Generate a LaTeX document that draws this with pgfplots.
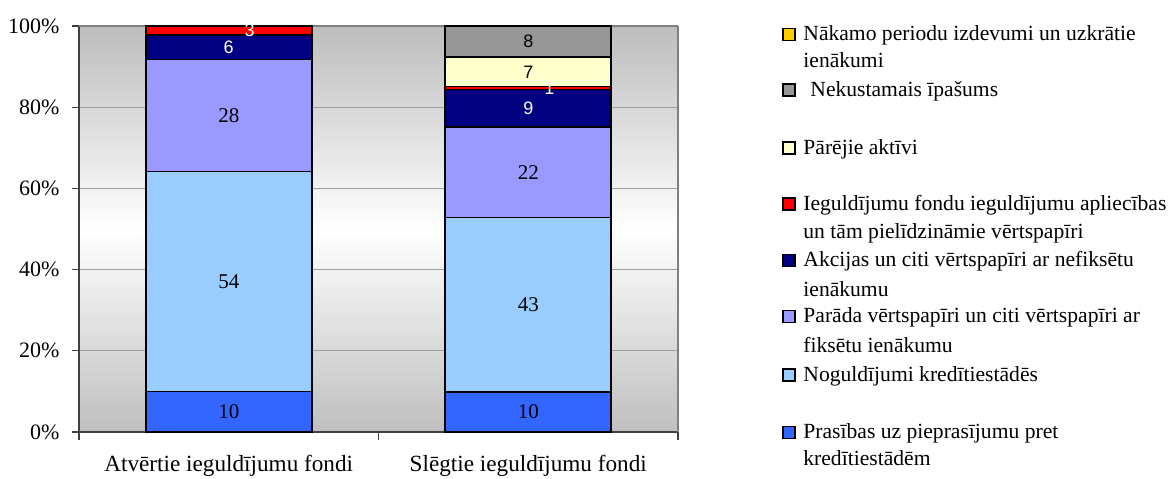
\documentclass[border=0pt]{standalone}
\usepackage{fontspec}
\setmainfont{Liberation Serif}
\newfontfamily\sansf{Liberation Sans}
\usepackage{pgfplots}
\pgfplotsset{compat=1.18}
\definecolor{cPras}{HTML}{3366FF}
\definecolor{cNog}{HTML}{99CCFF}
\definecolor{cPar}{HTML}{9999FF}
\definecolor{cAkc}{HTML}{000080}
\definecolor{cIeg}{HTML}{FF0000}
\definecolor{cPare}{HTML}{FFFFCC}
\definecolor{cNek}{HTML}{969696}
\definecolor{cNak}{HTML}{FFCC00}
\begin{document}
\begin{tikzpicture}
\useasboundingbox (0,0) rectangle (585.5pt,-239pt);
\begin{axis}[
  at={(39.5pt,-216pt)}, anchor=south west,
  scale only axis, width=299.5pt, height=203pt,
  ybar stacked, bar width=83pt,
  xmin=-0.5, xmax=1.5, ymin=0, ymax=100,
  axis lines=left, axis line style={-, draw=black!75, line width=0.6pt},
  axis background/.style={top color=black!26, bottom color=black!25, middle color=white},
  tick align=outside, major tick length=3.5pt,
  xtick={0,1},
  xticklabels={Atvērtie ieguldījumu fondi, Slēgtie ieguldījumu fondi},
  major x tick style={draw=none},
  extra x ticks={-0.5,0.5,1.5}, extra x tick labels={},
  extra x tick style={major x tick style={draw=black!75, line width=0.6pt}, major tick length=4pt, grid=none},
  ytick={0,20,40,60,80,100},
  yticklabels={0\%,20\%,40\%,60\%,80\%,100\%},
  ytick style={draw=black!75, line width=0.6pt},
  ymajorgrids, major grid style={draw=black!38, line width=0.5pt},
  yticklabel style={font=\fontsize{11}{13}\selectfont, xshift=-2.8pt},
  xticklabel style={font=\fontsize{11.6}{13}\selectfont, anchor=base, yshift=-16pt},
  point meta=explicit symbolic,
  nodes near coords,
  every node near coord/.append style={anchor=center, inner sep=0pt,
     font=\fontsize{10.5}{12}\selectfont},
  every axis plot/.append style={draw=black, line width=0.8pt},
  clip=false,
]
% Prasības uz pieprasījumu pret kredītiestādēm
\addplot[fill=cPras] table[x=x,y=y,meta=l] {
x y l
0 10.0 10
1 9.9 10
};
% Noguldījumi kredītiestādēs
\addplot[fill=cNog] table[x=x,y=y,meta=l] {
x y l
0 54.2 54
1 42.9 43
};
% Parāda vērtspapīri
\addplot[fill=cPar] table[x=x,y=y,meta=l] {
x y l
0 27.6 28
1 22.3 22
};
% Akcijas
\addplot[fill=cAkc, every node near coord/.append style={font=\sansf\fontsize{9}{11}\selectfont, text=white}] table[x=x,y=y,meta=l] {
x y l
0 6.0 6
1 9.3 9
};
% Ieguldījumu fondu apliecības
\addplot[fill=cIeg, every node near coord/.append style={font=\sansf\fontsize{9}{11}\selectfont, text=white, xshift=10.5pt}] table[x=x,y=y,meta=l] {
x y l
0 2.2 3
1 0.7 1
};
% Pārējie aktīvi
\addplot[fill=cPare, every node near coord/.append style={font=\sansf\fontsize{9}{11}\selectfont}] table[x=x,y=y,meta=l] {
x y l
0 0 {}
1 7.2 7
};
% Nekustamais īpašums
\addplot[fill=cNek, every node near coord/.append style={font=\sansf\fontsize{9}{11}\selectfont}] table[x=x,y=y,meta=l] {
x y l
0 0 {}
1 7.7 8
};
% Nākamo periodu izdevumi
\addplot[fill=cNak] table[x=x,y=y,meta=l] {
x y l
0 0 {}
1 0 {}
};
\draw[black!50, line width=0.75pt] (rel axis cs:1,0) -- (rel axis cs:1,1);
\draw[black!50, line width=0.75pt] (rel axis cs:0,1) -- (rel axis cs:1,1);
\end{axis}
% legend
\begin{scope}[every node/.style={anchor=base west, inner sep=0pt, font=\fontsize{10.8}{13}\selectfont}]
\def\lx{401.5pt}
\def\key#1#2{\filldraw[fill=#1, draw=black, line width=0.6pt] (391.5pt,-#2pt) rectangle (397.5pt,-#2pt+6pt);}
\key{cNak}{20.35}
\node at (\lx,-20.35pt) {Nākamo periodu izdevumi un uzkrātie};
\node at (\lx,-33.85pt) {ienākumi};
\key{cNek}{48}
\node at (405pt,-48pt) {Nekustamais īpašums};
\key{cPare}{77}
\node at (\lx,-77pt) {Pārējie aktīvi};
\key{cIeg}{105}
\node at (\lx,-105pt) {Ieguldījumu fondu ieguldījumu apliecības};
\node at (\lx,-119pt) {un tām pielīdzināmie vērtspapīri};
\key{cAkc}{133.35}
\node at (\lx,-133.35pt) {Akcijas un citi vērtspapīri ar nefiksētu};
\node at (\lx,-148pt) {ienākumu};
\key{cPar}{161.35}
\node at (\lx,-161.35pt) {Parāda vērtspapīri un citi vērtspapīri ar};
\node at (\lx,-176.35pt) {fiksētu ienākumu};
\key{cNog}{190.5}
\node at (\lx,-190.5pt) {Noguldījumi kredītiestādēs};
\key{cPras}{219.15}
\node at (\lx,-219.15pt) {Prasības uz pieprasījumu pret};
\node at (\lx,-232.85pt) {kredītiestādēm};
\end{scope}
\end{tikzpicture}
\end{document}
